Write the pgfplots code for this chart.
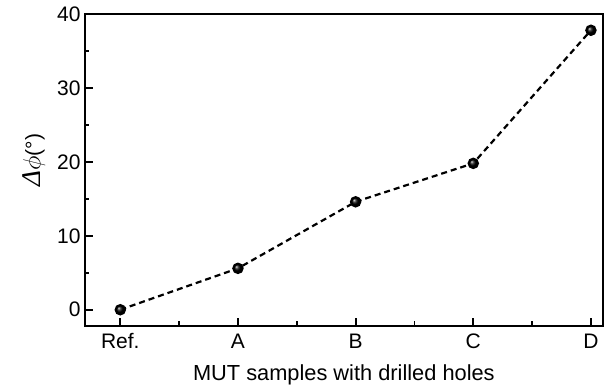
\documentclass[border=0pt]{standalone}
\usepackage{fontspec}
\setmainfont{Liberation Sans}
\newfontfamily\seriffont{Liberation Serif}
\usepackage{pgfplots}
\pgfplotsset{compat=1.18}
\usetikzlibrary{calc}
\begin{document}
\begin{tikzpicture}
\begin{axis}[
  scale only axis,
  width=517.7bp, height=312bp,
  xmin=-0.3, xmax=4.1,
  ymin=-2.2, ymax=40,
  xtick={0,1,2,3,4},
  xticklabels={Ref., A, B, C, D},
  minor xtick={0.5,1.5,2.5,3.5},
  ytick={0,10,20,30,40},
  minor ytick={5,15,25,35},
  tick pos=left,
  tick align=inside,
  major tick length=8bp,
  minor tick length=4.5bp,
  every tick/.style={black, line width=1.8bp},
  axis line style={line width=2.2bp},
  /pgf/number format/assume math mode=true,
  tick label style={font=\fontsize{21bp}{23bp}\selectfont},
  xticklabel style={yshift=-4bp, text height=15bp, text depth=0pt},
  yticklabel style={xshift=-1bp},
  xlabel={MUT samples with drilled holes},
  xlabel style={font=\fontsize{21.8bp}{24bp}\selectfont, yshift=-9bp},
  ylabel={{\seriffont\itshape Δ}$\phi$\fontsize{21bp}{24bp}\selectfont(°)},
  ylabel style={font=\fontsize{27bp}{29bp}\selectfont, yshift=5bp, xshift=10bp},
  clip=false,
]
\addplot[black, line width=2.2bp, dash pattern=on 6bp off 4bp,
  mark=ball, mark size=4.6bp, mark options={solid, ball color=black}]
  coordinates {(0,0) (1,5.6) (2,14.6) (3,19.8) (4,37.8)};
\end{axis}
\path[use as bounding box] ($(current axis.south west)+(-85bp,-61bp)$) rectangle ($(current axis.north east)+(8.3bp,14bp)$);
\end{tikzpicture}
\end{document}
